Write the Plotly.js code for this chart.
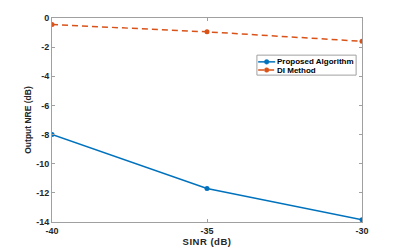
<!DOCTYPE html>
<html><head><meta charset="utf-8">
<script src="https://cdn.plot.ly/plotly-3.0.1.min.js"></script>
<style>html,body{margin:0;padding:0;background:#fff;}#c{width:399px;height:249px;}
.xtitle{letter-spacing:0.5px;}
</style>
</head><body><div id="c"></div>
<script>
var sinr = [-40, -35, -30];
var proposed = [-8.0, -11.7, -13.85];
var diMethod = [-0.45, -0.95, -1.6];
var seriesNames = ['Proposed Algorithm', 'DI Method'];
var xTicks = [-40, -35, -30];
var yTicks = [-14, -12, -10, -8, -6, -4, -2, 0];
var colors = ['#0072BD', '#D95319'];

var fam = 'Liberation Sans, Arial, sans-serif';
var tickFont = {family: fam, size: 9, color: '#262626', weight: 'bold'};
var data = [
  {x: sinr, y: proposed, name: seriesNames[0], mode: 'lines+markers',
   line: {color: colors[0], width: 1.5}, marker: {color: colors[0], size: 5, symbol: 'circle'}},
  {x: sinr, y: diMethod, name: seriesNames[1], mode: 'lines+markers',
   line: {color: colors[1], width: 1.5, dash: '6px,4px'}, marker: {color: colors[1], size: 5, symbol: 'circle'}}
];
var axisCommon = {showgrid: false, zeroline: false, showline: true, linecolor: '#a0a0a0', linewidth: 1,
  mirror: 'ticks', ticks: 'inside', ticklen: 3, tickcolor: '#a0a0a0', tickfont: tickFont};

// manual MATLAB-style legend (paper coordinates)
var lx0 = 0.661, lx1 = 0.981, ly0 = 0.720, ly1 = 0.818;
var rowsY = [0.785, 0.745];
var sx0 = 0.665, sx1 = 0.720, tx = 0.724;
var shapes = [{type: 'rect', xref: 'paper', yref: 'paper', x0: lx0, x1: lx1, y0: ly0, y1: ly1,
  line: {color: '#a0a0a0', width: 1}, fillcolor: '#fff', layer: 'above'}];
var annotations = [];
for (var i = 0; i < 2; i++) {
  shapes.push({type: 'line', xref: 'paper', yref: 'paper', x0: sx0, x1: sx1, y0: rowsY[i], y1: rowsY[i],
    line: {color: colors[i], width: 1.5, dash: i === 1 ? '6px,4px' : 'solid'}, layer: 'above'});
  shapes.push({type: 'circle', xref: 'paper', yref: 'paper', xsizemode: 'pixel', ysizemode: 'pixel',
    xanchor: (sx0 + sx1) / 2, yanchor: rowsY[i], x0: -2.3, x1: 2.3, y0: -2.3, y1: 2.3,
    fillcolor: colors[i], line: {color: colors[i], width: 0.5}, layer: 'above'});
  annotations.push({xref: 'paper', yref: 'paper', x: tx, y: rowsY[i], xanchor: 'left', yanchor: 'middle',
    text: seriesNames[i], showarrow: false, font: {family: fam, size: 8, color: '#000', weight: 'bold'}, borderpad: 0});
}

var layout = {
  width: 399, height: 249,
  margin: {l: 52, r: 37, t: 18, b: 27},
  paper_bgcolor: '#fff', plot_bgcolor: '#fff',
  showlegend: false,
  xaxis: Object.assign({}, axisCommon, {range: [-40, -30], tickvals: xTicks, ticktext: xTicks.map(String),
    title: {text: 'SINR (dB)', font: {family: fam, size: 9.5, color: '#262626', weight: 'bold'}, standoff: 1}}),
  yaxis: Object.assign({}, axisCommon, {range: [-14, 0], tickvals: yTicks, ticktext: yTicks.map(String),
    title: {text: 'Output NRE (dB)', font: {family: fam, size: 8.5, color: '#262626', weight: 'bold'}, standoff: 3}}),
  shapes: shapes,
  annotations: annotations
};
Plotly.newPlot('c', data, layout, {displayModeBar: false, staticPlot: true});
</script>
</body></html>
